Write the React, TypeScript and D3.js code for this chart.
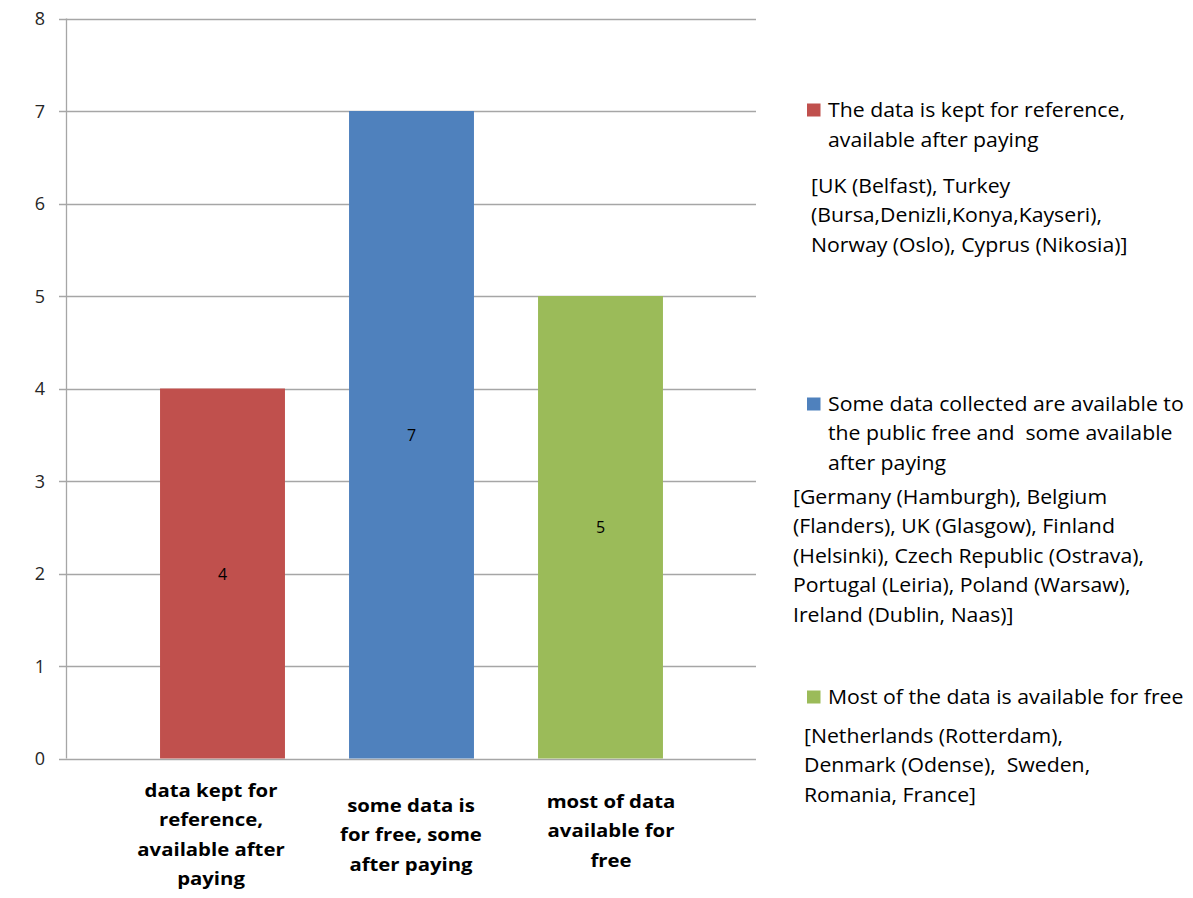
import React from 'react';
import * as d3 from 'd3';

// Chart data
const categories = [
  'data kept for reference, available after paying',
  'some data is for free, some after paying',
  'most of data available for free',
];
const categoryLines = [
  ['data kept for', 'reference,', 'available after', 'paying'],
  ['some data is', 'for free, some', 'after paying'],
  ['most of data', 'available for', 'free'],
];
const values = [4, 7, 5];
const colors = ['#C0504D', '#4F81BD', '#9BBB59'];
const yTicks = [0, 1, 2, 3, 4, 5, 6, 7, 8];

const legendTitles = [
  ['The data is kept for reference,', 'available after paying'],
  ['Some data collected are available to', 'the public free and  some available', 'after paying'],
  ['Most of the data is available for free'],
];
const legendDetails = [
  ['[UK (Belfast), Turkey', '(Bursa,Denizli,Konya,Kayseri),', 'Norway (Oslo), Cyprus (Nikosia)]'],
  [
    '[Germany (Hamburgh), Belgium',
    '(Flanders), UK (Glasgow), Finland',
    '(Helsinki), Czech Republic (Ostrava),',
    'Portugal (Leiria), Poland (Warsaw),',
    'Ireland (Dublin, Naas)]',
  ],
  ['[Netherlands (Rotterdam),', 'Denmark (Odense),  Sweden,', 'Romania, France]'],
];

// Layout
const W = 1193;
const H = 898;
const FONT = '"Open Sans", Lato, "Noto Sans", sans-serif';
const axisX = 66.5;
const gridLeft = 59;
const gridRight = 756;
const lineGap = 29.5;
const legendStretch = 1.09;
const labelStretch = 1.13;

const legendTitleY = [110, 404, 697];
const legendDetailY = [186, 497, 736];
const legendDetailX = [811, 793, 804];

// horizontal widening of a text block about an anchor x
const widen = (x0: number, s: number) => `translate(${x0},0) scale(${s},1) translate(${-x0},0)`;

export default function App() {
  const y = d3.scaleLinear().domain([0, 8]).range([758.5, 18.5]);
  const x = d3
    .scaleBand<string>()
    .domain(categories)
    .range([128, 695])
    .paddingInner(0.339)
    .paddingOuter(0.1695);
  const labelX = d3.scalePoint<string>().domain(categories).range([211, 611]);

  return (
    <svg
      width={W}
      height={H}
      viewBox={`0 0 ${W} ${H}`}
      style={{ position: 'absolute', left: 0, top: 0, background: '#fff' }}
      fontFamily={FONT}
    >
      {/* horizontal gridlines with tick stubs */}
      {yTicks.map((t) => (
        <line
          key={`g${t}`}
          x1={gridLeft}
          x2={gridRight}
          y1={Math.round(y(t)) + 0.5}
          y2={Math.round(y(t)) + 0.5}
          stroke="#A6A6A6"
          strokeWidth={1.3}
        />
      ))}
      {/* y axis */}
      <line x1={axisX} x2={axisX} y1={y(8)} y2={y(0)} stroke="#A6A6A6" strokeWidth={1.3} />
      {yTicks.map((t) => (
        <text
          key={`t${t}`}
          x={45}
          y={y(t) + 6.5}
          textAnchor="end"
          fontSize={18}
          fill="#262626"
        >
          {t}
        </text>
      ))}

      {/* bars */}
      {categories.map((c, i) => (
        <rect
          key={`b${i}`}
          x={x(c)}
          y={y(values[i])}
          width={x.bandwidth()}
          height={y(0) - y(values[i])}
          fill={colors[i]}
        />
      ))}
      {/* value labels */}
      {categories.map((c, i) => (
        <text
          key={`v${i}`}
          x={(x(c) as number) + x.bandwidth() / 2}
          y={(y(values[i]) + y(0)) / 2 + 6}
          textAnchor="middle"
          fontSize={16}
          fill="#000"
        >
          {values[i]}
        </text>
      ))}

      {/* category labels */}
      {categories.map((c, i) => {
        const n = categoryLines[i].length;
        const top = n === 4 ? 790 : i === 1 ? 805 : 801;
        const cx = labelX(c) as number;
        return (
          <text
            key={`c${i}`}
            transform={widen(cx, labelStretch)}
            textAnchor="middle"
            fontSize={18}
            fontWeight="bold"
            fill="#000"
          >
            {categoryLines[i].map((ln, j) => (
              <tspan key={j} x={cx} y={top + j * lineGap + 6.7}>
                {ln}
              </tspan>
            ))}
          </text>
        );
      })}

      {/* legend */}
      {legendTitles.map((lines, i) => (
        <g key={`l${i}`}>
          <rect
            x={807}
            y={legendTitleY[i] - 6.5}
            width={13.5}
            height={13}
            fill={colors[i]}
          />
          <text
            fontSize={19.5}
            fill="#000"
            style={{ whiteSpace: 'pre' }}
            transform={widen(828, legendStretch)}
          >
            {lines.map((ln, j) => (
              <tspan key={j} x={828} y={legendTitleY[i] + j * lineGap + 7}>
                {ln}
              </tspan>
            ))}
          </text>
          <text
            fontSize={19.5}
            fill="#000"
            style={{ whiteSpace: 'pre' }}
            transform={widen(legendDetailX[i], legendStretch)}
          >
            {legendDetails[i].map((ln, j) => (
              <tspan
                key={j}
                x={legendDetailX[i]}
                y={legendDetailY[i] + j * lineGap + 7}
              >
                {ln}
              </tspan>
            ))}
          </text>
        </g>
      ))}
    </svg>
  );
}
